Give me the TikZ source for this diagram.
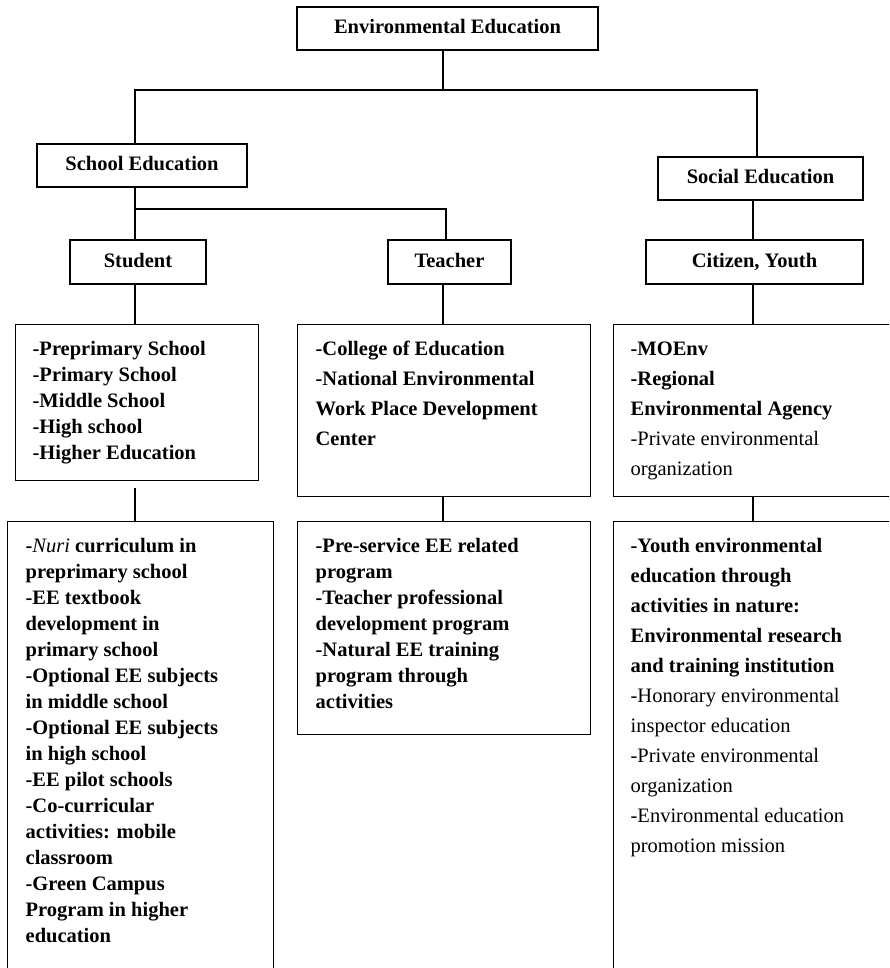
\documentclass[tikz,border=0pt]{standalone}
\usepackage{fontspec}
\setmainfont{Liberation Serif}
\begin{document}
\begin{tikzpicture}[x=1pt,y=-1pt,
  line width=1.3pt,
  hbox/.style={draw,inner sep=0pt,font=\fontsize{20.5}{24}\selectfont\bfseries,text height=14pt,text depth=4pt},
  lbox/.style={draw,inner sep=0pt,anchor=north west},
  ltxt/.style={inner sep=0pt,anchor=north west,align=left,font=\fontsize{20.5}{26}\selectfont\bfseries},
  ltxtw/.style={inner sep=0pt,anchor=north west,align=left,font=\fontsize{20.5}{30}\selectfont\bfseries}]
\useasboundingbox (0,0) rectangle (889,968);
\clip (0,0) rectangle (889,968);
% header boxes
\node[hbox,minimum width=301pt,minimum height=43pt] (ee) at (447.5,28.5) {Environmental Education};
\node[hbox,minimum width=210pt,minimum height=43pt] (school) at (142,165.5) {School Education};
\node[hbox,minimum width=205pt,minimum height=43pt] (social) at (760.5,178.5) {Social Education};
\node[hbox,minimum width=136pt,minimum height=44pt] (student) at (138,262) {Student};
\node[hbox,minimum width=123pt,minimum height=44pt] (teacher) at (449.5,262) {Teacher};
\node[hbox,minimum width=217pt,minimum height=44pt] (citizen) at (754.5,262) {Citizen, Youth};
% list boxes
\node[lbox,minimum width=243pt,minimum height=156pt] (slist) at (15,324) {};
\node[lbox,minimum width=293pt,minimum height=172pt] (tlist) at (297,324) {};
\node[lbox,minimum width=300pt,minimum height=172pt] (clist) at (613,324) {};
\node[lbox,minimum width=266pt,minimum height=460pt] (sbot) at (7,521) {};
\node[lbox,minimum width=293pt,minimum height=213pt] (tbot) at (297,521) {};
\node[lbox,minimum width=300pt,minimum height=460pt] (cbot) at (613,521) {};
% texts
\node[ltxt] (slistt) at (32,336.8) {\strut-Preprimary School\\-Primary School\\-Middle School\\-High school\\-Higher Education};
\node[ltxtw] (tlistt) at (315,334) {\strut-College of Education\\-National Environmental\\Work Place Development\\Center};
\node[ltxtw] (clistt) at (630,334) {\strut-MOEnv\\-Regional\\Environmental Agency\\\mdseries -Private environmental\\\mdseries organization};
\node[ltxt] (sbott) at (25,533.8) {\strut-{\mdseries\itshape Nuri} curriculum in\\preprimary school\\-EE textbook\\development in\\primary school\\-Optional EE subjects\\in middle school\\-Optional EE subjects\\in high school\\-EE pilot schools\\-Co-curricular\\activities: mobile\\classroom\\-Green Campus\\Program in higher\\education};
\node[ltxt] (tbott) at (315,533.8) {\strut-Pre-service EE related\\program\\-Teacher professional\\development program\\-Natural EE training\\program through\\activities};
\node[ltxtw] (cbott) at (630,531) {\strut-Youth environmental\\education through\\activities in nature:\\Environmental research\\and training institution\\\mdseries -Honorary environmental\\\mdseries inspector education\\\mdseries -Private environmental\\\mdseries organization\\\mdseries -Environmental education\\\mdseries promotion mission};
% junction coordinates
\coordinate (j1) at (443,90);
\coordinate (jL) at (135,90);
\coordinate (jR) at (757,90);
\coordinate (k) at (135,209);
\coordinate (kT) at (446,209);
\coordinate (c1) at (753,0);
\coordinate (g) at (135,488);
% connectors
\draw (ee.south -| j1) -- (j1);
\draw (school.north -| jL) -- (jL) -- (jR) -- (social.north -| jR);
\draw (school.south -| k) -- (student.north -| k);
\draw (k) -- (kT) -- (teacher.north -| kT);
\draw (social.south -| c1) -- (citizen.north -| c1);
\draw (student.south -| k) -- (slist.north -| k);
\draw (teacher.south -| j1) -- (tlist.north -| j1);
\draw (citizen.south -| c1) -- (clist.north -| c1);
\draw (g) -- (sbot.north -| g);
\draw (tlist.south -| j1) -- (tbot.north -| j1);
\draw (clist.south -| c1) -- (cbot.north -| c1);
\end{tikzpicture}
\end{document}
